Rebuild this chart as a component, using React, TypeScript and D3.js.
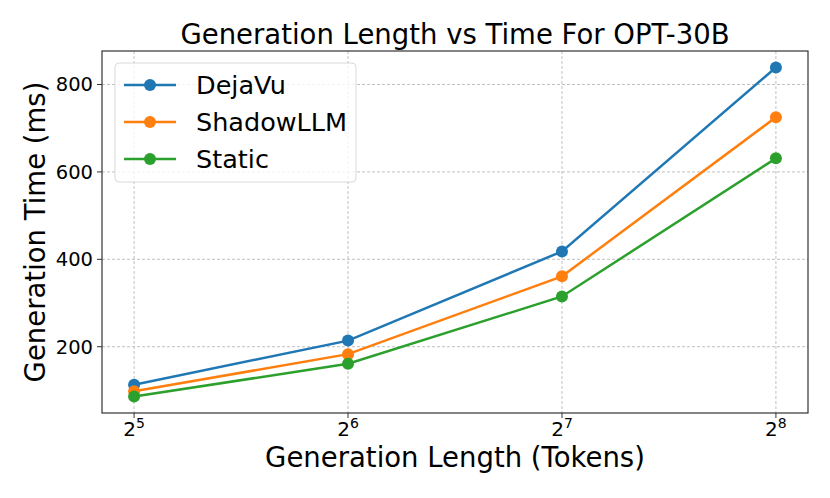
import { useEffect, useRef } from 'react'
import * as d3 from 'd3'

const exponents = [5, 6, 7, 8]
const seriesNames = ['DejaVu', 'ShadowLLM', 'Static']
const dejavu = [113, 214, 418, 839]
const shadowllm = [98, 183, 361, 725]
const staticVals = [86, 161, 315, 631]
const yTicks = [200, 400, 600, 800]
const COLORS = ['#1f77b4', '#ff7f0e', '#2ca02c']

const FONT = 'DejaVu Sans, sans-serif'

export default function App() {
  const ref = useRef<SVGSVGElement>(null)

  useEffect(() => {
    if (!ref.current) return
    const width = 830
    const height = 498
    const margin = { top: 51, right: 22, bottom: 85, left: 102 }
    const plotW = width - margin.left - margin.right
    const plotH = height - margin.top - margin.bottom

    const svg = d3.select(ref.current)
    svg.selectAll('*').remove()
    svg.append('rect').attr('width', width).attr('height', height).attr('fill', '#fff')

    const allVals = [...dejavu, ...shadowllm, ...staticVals]
    const [yMin, yMax] = d3.extent(allVals) as [number, number]
    const yPad = (yMax - yMin) * 0.05
    const xScale = d3.scaleLinear().domain([4.85, 8.15]).range([0, plotW])
    const yScale = d3.scaleLinear().domain([yMin - yPad, yMax + yPad]).range([plotH, 0])

    const g = svg.append('g').attr('transform', `translate(${margin.left},${margin.top})`)

    // grid
    g.selectAll('.vgrid')
      .data(exponents)
      .join('line')
      .attr('x1', (d) => xScale(d))
      .attr('x2', (d) => xScale(d))
      .attr('y1', 0)
      .attr('y2', plotH)
      .attr('stroke', '#b0b0b0')
      .attr('stroke-width', 0.8)
      .attr('stroke-dasharray', '3,2')
    g.selectAll('.hgrid')
      .data(yTicks)
      .join('line')
      .attr('x1', 0)
      .attr('x2', plotW)
      .attr('y1', (d) => yScale(d))
      .attr('y2', (d) => yScale(d))
      .attr('stroke', '#b0b0b0')
      .attr('stroke-width', 0.8)
      .attr('stroke-dasharray', '3,2')

    // series
    const series = [dejavu, shadowllm, staticVals]
    const line = d3
      .line<number>()
      .x((_, i) => xScale(exponents[i]))
      .y((d) => yScale(d))
    series.forEach((vals, si) => {
      g.append('path')
        .datum(vals)
        .attr('d', line)
        .attr('fill', 'none')
        .attr('stroke', COLORS[si])
        .attr('stroke-width', 2.5)
      g.selectAll(`.pt${si}`)
        .data(vals)
        .join('circle')
        .attr('cx', (_, i) => xScale(exponents[i]))
        .attr('cy', (d) => yScale(d))
        .attr('r', 6)
        .attr('fill', COLORS[si])
    })

    // frame
    g.append('rect')
      .attr('width', plotW)
      .attr('height', plotH)
      .attr('fill', 'none')
      .attr('stroke', '#333')
      .attr('stroke-width', 1.2)

    // x ticks (2^n labels)
    exponents.forEach((e) => {
      const x = xScale(e)
      g.append('line')
        .attr('x1', x)
        .attr('x2', x)
        .attr('y1', plotH)
        .attr('y2', plotH + 5)
        .attr('stroke', '#333')
      const t = g
        .append('text')
        .attr('x', x)
        .attr('y', plotH + 23)
        .attr('text-anchor', 'middle')
        .attr('font-family', FONT)
        .attr('font-size', 20)
      t.append('tspan').text('2')
      t.append('tspan').attr('dy', -8).attr('font-size', 14).text(String(e))
    })

    // y ticks
    yTicks.forEach((v) => {
      const y = yScale(v)
      g.append('line')
        .attr('x1', -5)
        .attr('x2', 0)
        .attr('y1', y)
        .attr('y2', y)
        .attr('stroke', '#333')
      g.append('text')
        .attr('x', -9)
        .attr('y', y)
        .attr('dy', '0.35em')
        .attr('text-anchor', 'end')
        .attr('font-family', FONT)
        .attr('font-size', 19.5)
        .text(String(v))
    })

    // title
    svg.append('text')
      .attr('x', margin.left + plotW / 2)
      .attr('y', 44)
      .attr('text-anchor', 'middle')
      .attr('font-family', FONT)
      .attr('font-size', 27.5)
      .text('Generation Length vs Time For OPT-30B')

    // axis labels
    svg.append('text')
      .attr('x', margin.left + plotW / 2)
      .attr('y', 467)
      .attr('text-anchor', 'middle')
      .attr('font-family', FONT)
      .attr('font-size', 27.5)
      .text('Generation Length (Tokens)')
    svg.append('text')
      .attr('transform', `translate(45,${margin.top + plotH / 2}) rotate(-90)`)
      .attr('text-anchor', 'middle')
      .attr('font-family', FONT)
      .attr('font-size', 27.5)
      .text('Generation Time (ms)')

    // legend
    const lg = svg.append('g').attr('transform', 'translate(115,63)')
    lg.append('rect')
      .attr('width', 241)
      .attr('height', 119)
      .attr('rx', 4)
      .attr('fill', '#fff')
      .attr('fill-opacity', 0.8)
      .attr('stroke', '#d9d9d9')
    seriesNames.forEach((name, i) => {
      const y = 22 + i * 37
      lg.append('line')
        .attr('x1', 9)
        .attr('x2', 61)
        .attr('y1', y)
        .attr('y2', y)
        .attr('stroke', COLORS[i])
        .attr('stroke-width', 2.5)
      lg.append('circle').attr('cx', 35).attr('cy', y).attr('r', 6).attr('fill', COLORS[i])
      lg.append('text')
        .attr('x', 81)
        .attr('y', y)
        .attr('dy', '0.35em')
        .attr('font-family', FONT)
        .attr('font-size', 25.5)
        .text(name)
    })
  }, [])

  return <svg ref={ref} width={830} height={498} style={{ display: 'block', margin: -8 }} />
}
